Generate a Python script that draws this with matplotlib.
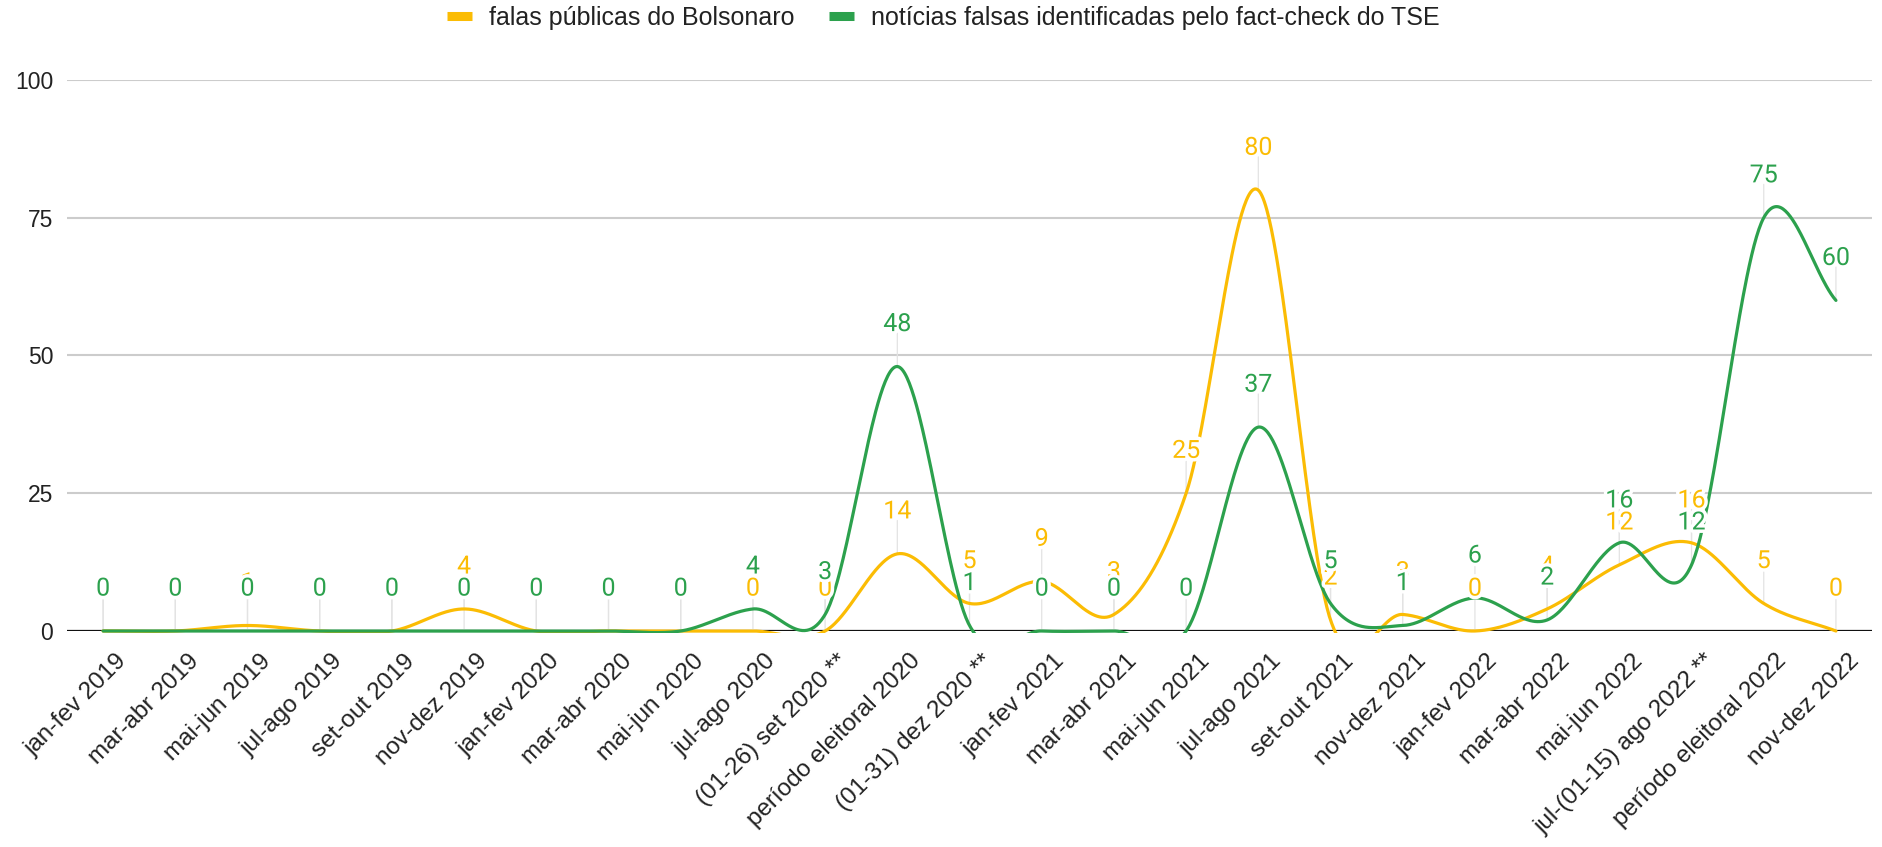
import os
import numpy as np
import matplotlib.pyplot as plt
import matplotlib.patheffects as pe
import matplotlib.font_manager as fm
from matplotlib.lines import Line2D
from matplotlib.patches import Rectangle
from matplotlib.transforms import ScaledTranslation

periodos = [
    'jan-fev 2019', 'mar-abr 2019', 'mai-jun 2019', 'jul-ago 2019', 'set-out 2019',
    'nov-dez 2019', 'jan-fev 2020', 'mar-abr 2020', 'mai-jun 2020', 'jul-ago 2020',
    '(01-26) set 2020 **', 'período eleitoral 2020', '(01-31) dez 2020 **',
    'jan-fev 2021', 'mar-abr 2021', 'mai-jun 2021', 'jul-ago 2021', 'set-out 2021',
    'nov-dez 2021', 'jan-fev 2022', 'mar-abr 2022', 'mai-jun 2022',
    'jul-(01-15) ago 2022 **', 'período eleitoral 2022', 'nov-dez 2022',
]
falas_bolsonaro = [0, 0, 1, 0, 0, 4, 0, 0, 0, 0, 0, 14, 5, 9, 3, 25, 80, 2, 3, 0, 4, 12, 16, 5, 0]
fake_news_tse = [0, 0, 0, 0, 0, 0, 0, 0, 0, 4, 3, 48, 1, 0, 0, 0, 37, 5, 1, 6, 2, 16, 12, 75, 60]

nomes = ['falas públicas do Bolsonaro', 'notícias falsas identificadas pelo fact-check do TSE']
AMARELO = '#fbbc04'
VERDE = '#2ca14d'
TEXTO = '#222222'

# arial-like (liberation sans normal, nao a narrow)
arq = [f for f in fm.findSystemFonts()
       if os.path.basename(f).lower() == 'liberationsans-regular.ttf']


def fonte(tam):
    if arq:
        return fm.FontProperties(fname=arq[0], size=tam)
    return fm.FontProperties(family=['Liberation Sans', 'DejaVu Sans'], size=tam)


def curva_suave(y, passos=60):
    # spline cubica tipo catmull-rom, parecida com curveType 'function' do google
    y = np.asarray(y, dtype=float)
    n = len(y)
    m = np.empty(n)
    m[1:-1] = (y[2:] - y[:-2]) / 2
    m[0] = y[1] - y[0]
    m[-1] = y[-1] - y[-2]
    t = np.linspace(0, 1, passos, endpoint=False)
    h00 = 2 * t**3 - 3 * t**2 + 1
    h10 = t**3 - 2 * t**2 + t
    h01 = -2 * t**3 + 3 * t**2
    h11 = t**3 - t**2
    xs, ys = [], []
    for i in range(n - 1):
        xs.append(i + t)
        ys.append(h00 * y[i] + h10 * m[i] + h01 * y[i + 1] + h11 * m[i + 1])
    xs.append([n - 1])
    ys.append([y[-1]])
    return np.concatenate(xs), np.concatenate(ys)


fig = plt.figure(figsize=(18.83, 8.47), dpi=100)
ax = fig.add_axes([0.03558, 0.25502, 0.9586, 0.65053])
ax.set_xlim(-0.5, len(periodos) - 0.5)
ax.set_ylim(0, 100)

ax.set_yticks([0, 25, 50, 75, 100])
ax.yaxis.grid(True, color='#cccccc', lw=1.5, zorder=0)
ax.set_axisbelow(True)
ax.axhline(0, color='#111111', lw=1.6, zorder=1.2)
for s in ax.spines.values():
    s.set_visible(False)
ax.tick_params(axis='y', length=0, pad=10, labelcolor=TEXTO)
for lab in ax.get_yticklabels():
    lab.set_fontproperties(fonte(16.5))
ax.tick_params(axis='x', length=0)
ax.set_xticks(range(len(periodos)))
ax.set_xticklabels([])

# linhas abaixo de zero ficam cortadas, como no grafico original
clip = Rectangle((0, -0.004), 1, 1.2, transform=ax.transAxes, visible=False)
ax.add_patch(clip)

halo = [pe.withStroke(linewidth=5, foreground='white')]
series = [(falas_bolsonaro, AMARELO, 2), (fake_news_tse, VERDE, 3)]
for k, (vals, cor, z) in enumerate(series):
    xs, ys = curva_suave(vals)
    ln, = ax.plot(xs, ys, color=cor, lw=2.3, zorder=z, solid_capstyle='round')
    ln.set_clip_path(clip)
    for i, v in enumerate(vals):
        ax.annotate('', xy=(i, v), xytext=(0, 24), textcoords='offset points',
                    arrowprops=dict(arrowstyle='-', color='#e3e3e3', lw=0.9,
                                    shrinkA=0, shrinkB=0), zorder=1.5)
        ax.annotate(str(v), xy=(i, v), xytext=(0, 25.5), textcoords='offset points',
                    ha='center', va='baseline', color=cor, fontsize=18,
                    family='Roboto', zorder=5 + k, path_effects=halo,
                    annotation_clip=False)

rot = ax.get_xaxis_transform() + ScaledTranslation(0.12, -0.19, fig.dpi_scale_trans)
for i, p in enumerate(periodos):
    ax.text(i, 0, p, transform=rot, rotation=45, rotation_mode='anchor',
            ha='right', va='top', fontproperties=fonte(17.5), color=TEXTO)

alcas = [Line2D([], [], color=c, lw=6.5, solid_capstyle='butt') for _, c, _ in series]
fig.legend(alcas, nomes, loc='center', bbox_to_anchor=(0.501, 0.979), ncol=2,
           frameon=False, prop=fonte(18), handlelength=1.0, handletextpad=0.68,
           columnspacing=1.36, borderpad=0, labelcolor=TEXTO)

fig.savefig('out.png', dpi=100, facecolor='white')
